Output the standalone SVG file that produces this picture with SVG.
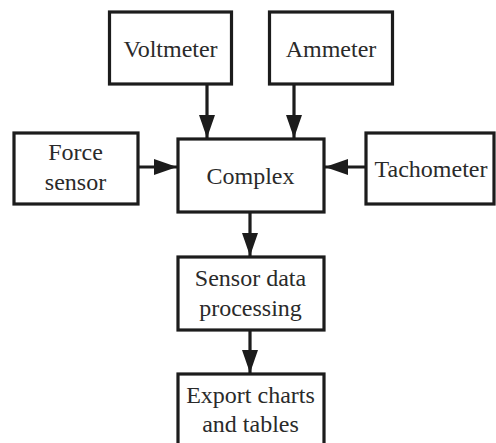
<svg xmlns="http://www.w3.org/2000/svg" width="496" height="443" viewBox="0 0 496 443">
  <style>
    .box { fill: #ffffff; stroke: #1c1c1c; stroke-width: 3.2; }
    .lbl { font-family: "Liberation Serif", "Times New Roman", serif; font-size: 24px; fill: #2a2a2a; text-anchor: middle; }
    .wire { stroke: #1c1c1c; stroke-width: 3.2; fill: none; marker-end: url(#head); }
  </style>
  <defs>
    <marker id="head" markerUnits="userSpaceOnUse" markerWidth="24" markerHeight="16" refX="23" refY="8" orient="auto">
      <path d="M0,0 L23,8 L0,16 Z" fill="#1c1c1c"/>
    </marker>
  </defs>
  <rect width="496" height="443" fill="#ffffff"/>

  <!-- connectors -->
  <g id="connectors">
    <line class="wire" x1="207" y1="84" x2="207" y2="138"/>
    <line class="wire" x1="294" y1="84" x2="294" y2="138"/>
    <line class="wire" x1="138" y1="167" x2="177" y2="167"/>
    <line class="wire" x1="365" y1="167" x2="325" y2="167"/>
    <line class="wire" x1="250" y1="212" x2="250" y2="256"/>
    <line class="wire" x1="250" y1="330" x2="250" y2="373"/>
  </g>

  <g id="voltmeter">
    <rect class="box" x="109.5" y="12" width="122" height="72"/>
    <text class="lbl" x="170.5" y="57">Voltmeter</text>
  </g>
  <g id="ammeter">
    <rect class="box" x="269.5" y="12" width="123" height="72"/>
    <text class="lbl" x="331" y="57">Ammeter</text>
  </g>
  <g id="force-sensor">
    <rect class="box" x="14" y="133" width="124" height="71"/>
    <text class="lbl" x="75.5" y="160">Force</text>
    <text class="lbl" x="75.5" y="190">sensor</text>
  </g>
  <g id="complex">
    <rect class="box" x="178" y="139" width="146" height="73"/>
    <text class="lbl" x="250.5" y="184">Complex</text>
  </g>
  <g id="tachometer">
    <rect class="box" x="366" y="133" width="128" height="71"/>
    <text class="lbl" x="431" y="177">Tachometer</text>
  </g>
  <g id="sensor-data-processing">
    <rect class="box" x="178" y="257" width="146" height="73"/>
    <text class="lbl" x="250.5" y="286">Sensor data</text>
    <text class="lbl" x="250.5" y="316">processing</text>
  </g>
  <g id="export-charts">
    <rect class="box" x="178" y="374" width="146" height="80"/>
    <text class="lbl" x="250.5" y="403">Export charts</text>
    <text class="lbl" x="250.5" y="432">and tables</text>
  </g>
</svg>
